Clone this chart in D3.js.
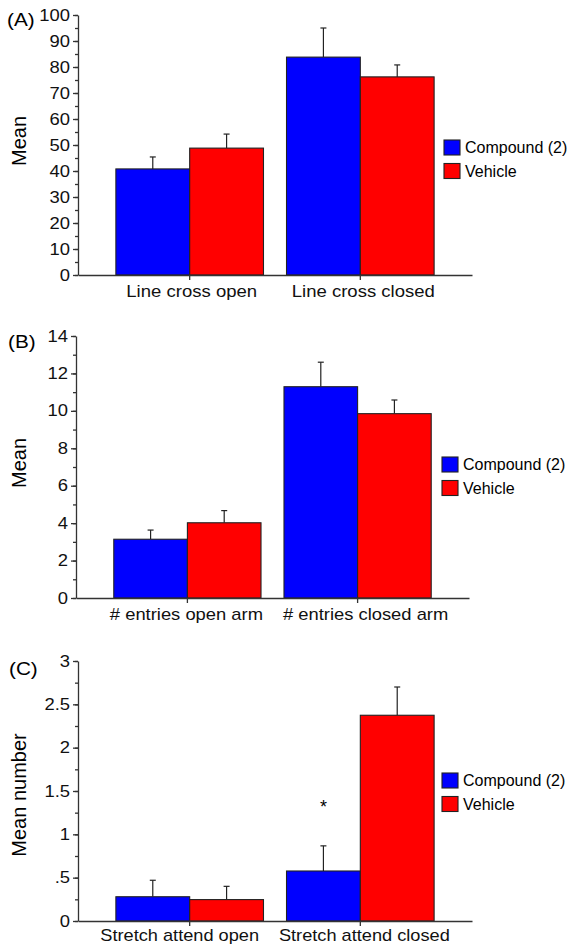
<!DOCTYPE html>
<html>
<head>
<meta charset="utf-8">
<script src="https://cdn.jsdelivr.net/npm/d3@7"></script>
<style>
  body { margin: 0; background: #fff; }
  svg { display: block; font-family: "Liberation Sans", Arial, sans-serif; }
  .axis path, .axis line { stroke: #333; stroke-width: 1.3; }
  .axis text { fill: #111; font-family: "Liberation Sans", Arial, sans-serif; }
  .y-axis text { font-size: 16px; }
  .x-axis text { font-size: 17px; }
</style>
</head>
<body>
<svg id="chart" width="567" height="945"></svg>
<script>
const seriesNames = ['Compound (2)', 'Vehicle'];
const seriesColors = ['#0000ff', '#ff0000'];

// panel A
const catsA = ['Line cross open', 'Line cross closed'];
const compoundA = [40.8, 83.8];
const compoundErrA = [4.6, 11.2];
const vehicleA = [48.8, 76.2];
const vehicleErrA = [5.4, 4.6];
const ticksA = [0, 10, 20, 30, 40, 50, 60, 70, 80, 90, 100];

// panel B
const catsB = ['# entries open arm', '# entries closed arm'];
const compoundB = [3.14, 11.29];
const compoundErrB = [0.49, 1.31];
const vehicleB = [4.02, 9.85];
const vehicleErrB = [0.65, 0.73];
const ticksB = [0, 2, 4, 6, 8, 10, 12, 14];

// panel C
const catsC = ['Stretch attend open', 'Stretch attend closed'];
const compoundC = [0.28, 0.577];
const compoundErrC = [0.19, 0.29];
const vehicleC = [0.247, 2.374];
const vehicleErrC = [0.153, 0.326];
const ticksC = [0, 0.5, 1, 1.5, 2, 2.5, 3];
const tickLabelsC = ['0', '.5', '1', '1.5', '2', '2.5', '3'];

const svg = d3.select('#chart');

// the scanned figure has slightly wide lettering
function stretch(sel, k) {
  sel.each(function () {
    const w = this.getComputedTextLength();
    d3.select(this).attr('textLength', w * k).attr('lengthAdjust', 'spacingAndGlyphs');
  });
}

function drawPanel(opts) {
  const { tag, cats, values, errs, yMax, ticks, minorStep, tickFmt, yTitle, box, legend, stars } = opts;
  const g = svg.append('g');

  const y = d3.scaleLinear().domain([0, yMax]).range([box.bottom, box.top]);
  const x = d3.scaleBand().domain(cats).range([box.left, box.right]).paddingInner(0.135).paddingOuter(0.222);
  const xs = d3.scaleBand().domain(seriesNames).range([0, x.bandwidth()]);

  // minor ticks
  g.append('g')
    .attr('class', 'axis')
    .attr('transform', `translate(${box.left},0)`)
    .call(d3.axisLeft(y).tickValues(d3.range(0, yMax + 1e-9, minorStep)).tickSize(3).tickSizeOuter(0).tickFormat(''))
    .call((a) => a.select('.domain').remove());

  const yAxis = g.append('g')
    .attr('class', 'axis y-axis')
    .attr('transform', `translate(${box.left},0)`)
    .call(d3.axisLeft(y).tickValues(ticks).tickSize(5).tickSizeOuter(0).tickPadding(3).tickFormat(tickFmt));
  stretch(yAxis.selectAll('text'), 1.15);

  const rows = [];
  cats.forEach((c, i) => {
    seriesNames.forEach((s, j) => {
      rows.push({ cat: c, series: s, value: values[j][i], err: errs[j][i], color: seriesColors[j] });
    });
  });

  const bars = g.selectAll('g.bar').data(rows).enter().append('g').attr('class', 'bar');
  const cx = (d) => x(d.cat) + xs(d.series) + xs.bandwidth() / 2;

  bars.append('line')
    .attr('x1', cx)
    .attr('x2', cx)
    .attr('y1', (d) => y(d.value))
    .attr('y2', (d) => y(d.value + d.err))
    .attr('stroke', '#222')
    .attr('stroke-width', 1.2);

  bars.append('line')
    .attr('x1', (d) => cx(d) - 3)
    .attr('x2', (d) => cx(d) + 3)
    .attr('y1', (d) => y(d.value + d.err))
    .attr('y2', (d) => y(d.value + d.err))
    .attr('stroke', '#222')
    .attr('stroke-width', 1.2);

  bars.append('rect')
    .attr('x', (d) => x(d.cat) + xs(d.series))
    .attr('y', (d) => y(d.value))
    .attr('width', xs.bandwidth())
    .attr('height', (d) => y(0) - y(d.value))
    .attr('fill', (d) => d.color)
    .attr('stroke', '#222')
    .attr('stroke-width', 1.1);

  const xAxis = g.append('g')
    .attr('class', 'axis x-axis')
    .attr('transform', `translate(0,${box.bottom})`)
    .call(d3.axisBottom(x).tickSize(5).tickSizeOuter(0).tickPadding(box.xPad || 5));
  // labels sit a little off the category centre in the original
  xAxis.selectAll('text').attr('dx', (d, i) => box.labelShift[i]);
  stretch(xAxis.selectAll('text'), box.labelStretch);

  // significance marks
  (stars || []).forEach((st) => {
    const j = seriesNames.indexOf(st.series);
    const i = cats.indexOf(st.cat);
    g.append('text')
      .attr('x', x(st.cat) + xs(st.series) + xs.bandwidth() / 2)
      .attr('y', y(values[j][i] + errs[j][i]) - 33)
      .attr('text-anchor', 'middle')
      .style('font-size', '18px')
      .text('*');
  });

  const tagText = g.append('text')
    .attr('x', box.tagX)
    .attr('y', box.tagY)
    .style('font-size', '18px')
    .text(tag);
  stretch(tagText, 1.15);

  g.append('text')
    .attr('transform', `translate(26,${box.titleY}) rotate(-90)`)
    .attr('text-anchor', 'middle')
    .style('font-size', '20px')
    .text(yTitle);

  const lg = g.selectAll('g.leg').data(seriesNames).enter().append('g').attr('class', 'leg')
    .attr('transform', (d, i) => `translate(${legend.x},${legend.y + i * 23.5})`);
  lg.append('rect')
    .attr('width', 16)
    .attr('height', 15)
    .attr('fill', (d, i) => seriesColors[i])
    .attr('stroke', '#222')
    .attr('stroke-width', 1.1);
  lg.append('text')
    .attr('x', 21)
    .attr('y', 13)
    .style('font-size', '16px')
    .text((d) => d);
}

drawPanel({
  tag: '(A)', cats: catsA,
  values: [compoundA, vehicleA], errs: [compoundErrA, vehicleErrA],
  yMax: 100, ticks: ticksA, minorStep: 5, tickFmt: (d) => d,
  yTitle: 'Mean',
  box: { left: 78, right: 472, top: 15, bottom: 275, tagX: 7, tagY: 26, titleY: 141, labelShift: [2, 3], labelStretch: 1.09 },
  legend: { x: 444, y: 140 },
});

drawPanel({
  tag: '(B)', cats: catsB,
  values: [compoundB, vehicleB], errs: [compoundErrB, vehicleErrB],
  yMax: 14, ticks: ticksB, minorStep: 1, tickFmt: (d) => d,
  yTitle: 'Mean',
  box: { left: 76, right: 469, top: 336, bottom: 598, tagX: 8, tagY: 348, titleY: 463, labelShift: [-1, 8], labelStretch: 1.08 },
  legend: { x: 442, y: 457 },
});

drawPanel({
  tag: '(C)', cats: catsC,
  values: [compoundC, vehicleC], errs: [compoundErrC, vehicleErrC],
  yMax: 3, ticks: ticksC, minorStep: 0.25, tickFmt: (d, i) => tickLabelsC[i],
  yTitle: 'Mean number',
  box: { left: 78, right: 472, top: 661, bottom: 921, tagX: 9, tagY: 675, titleY: 795, xPad: 3, labelShift: [-10, 4], labelStretch: 1.07 },
  legend: { x: 442, y: 773 },
  stars: [{ cat: 'Stretch attend closed', series: 'Compound (2)' }],
});
</script>
</body>
</html>
